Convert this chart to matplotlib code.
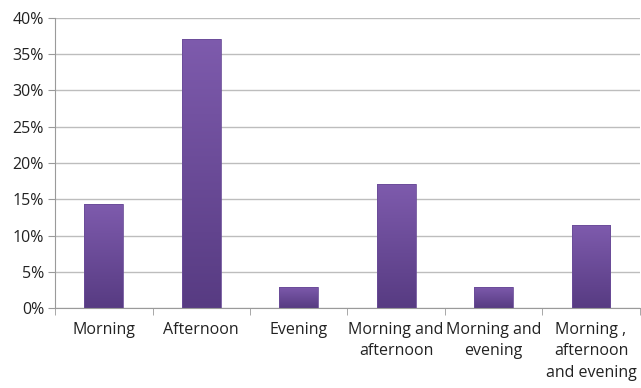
import matplotlib
matplotlib.use("Agg")
import matplotlib.pyplot as plt
import numpy as np
from matplotlib.colors import LinearSegmentedColormap

# Share of respondents by time of day
categories = ["Morning", "Afternoon", "Evening", "Morning and\nafternoon",
              "Morning and\nevening", "Morning ,\nafternoon\nand evening"]
shares = [14.3, 37.1, 2.9, 17.1, 2.9, 11.4]
y_ticks = [0, 5, 10, 15, 20, 25, 30, 35, 40]
y_tick_labels = [f"{v}%" for v in y_ticks]

plt.rcParams["font.family"] = ["Open Sans", "DejaVu Sans"]

fig = plt.figure(figsize=(6.41, 3.88), dpi=100)
ax = fig.add_axes([0.086, 0.206, 0.912, 0.748])

n = len(categories)
x = np.arange(n)
width = 0.4
cmap = LinearSegmentedColormap.from_list("purple", ["#573b82", "#7e5bad"])
grad = np.linspace(0, 1, 256).reshape(-1, 1)

for xi, v in zip(x, shares):
    bar = ax.bar(xi, v, width=width, color="none", edgecolor="#6a4c98",
                 linewidth=0.6, zorder=3)[0]
    im = ax.imshow(grad, cmap=cmap, aspect="auto", origin="lower",
                   extent=[xi - width / 2, xi + width / 2, 0, v], zorder=2)
    im.set_clip_path(bar)

ax.set_xlim(-0.5, n - 0.5)
ax.set_ylim(0, 40)
ax.set_yticks(y_ticks)
ax.set_yticklabels(y_tick_labels, fontsize=11.5, color="#222222")
ax.yaxis.grid(True, color="#bdbdbd", linewidth=1.0, zorder=0)
ax.set_axisbelow(True)

ax.set_xticks(x)
ax.set_xticklabels(categories, fontsize=11.5, linespacing=1.45, color="#222222")
ax.tick_params(axis="x", length=0, pad=10)
ax.set_xticks(np.arange(n + 1) - 0.5, minor=True)
ax.tick_params(axis="x", which="minor", length=5, color="#9a9a9a")
ax.tick_params(axis="y", length=5, color="#9a9a9a", pad=3)

for side in ("top", "right"):
    ax.spines[side].set_visible(False)
for side in ("left", "bottom"):
    ax.spines[side].set_color("#9a9a9a")

fig.savefig("out.png", dpi=100)
